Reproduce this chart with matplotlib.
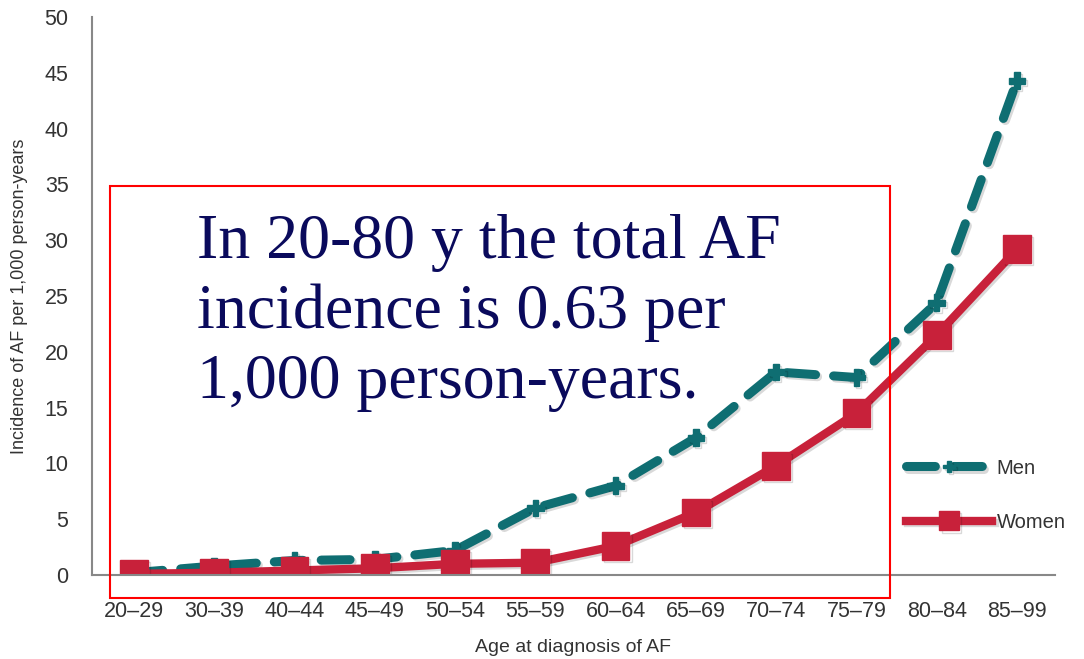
import matplotlib
matplotlib.use("Agg")
import matplotlib.pyplot as plt
import matplotlib.patheffects as pe
from matplotlib.patches import Rectangle

# data
age_groups = ["20–29", "30–39", "40–44", "45–49", "50–54", "55–59",
              "60–64", "65–69", "70–74", "75–79", "80–84", "85–99"]
men = [0.2, 0.8, 1.3, 1.4, 2.2, 6.0, 8.0, 12.3, 18.2, 17.7, 24.4, 44.3]
women = [0.1, 0.2, 0.4, 0.6, 1.0, 1.1, 2.6, 5.6, 9.8, 14.5, 21.5, 29.2]
y_ticks = [0, 5, 10, 15, 20, 25, 30, 35, 40, 45, 50]

teal = "#0f6e72"
crimson = "#c8213a"
grey = "#888888"
shadow = [pe.SimpleLineShadow(offset=(1.5, -1.5), alpha=0.15), pe.Normal()]

fig = plt.figure(figsize=(10.84, 6.59), dpi=100)
ax = fig.add_axes([0.085, 0.1275, 0.888, 0.8465])

x = list(range(len(age_groups)))
ax.plot(x, men, color=teal, lw=6.5, ls=(0, (3.2, 2.0)), marker="P",
        ms=12, mec=teal, mfc=teal, dash_capstyle="round",
        label="Men", path_effects=shadow)
ax.plot(x, women, color=crimson, lw=6, marker="s", ms=20,
        mec=crimson, mfc=crimson, label="Women", path_effects=shadow)

ax.set_xlim(-0.52, 11.47)
ax.set_ylim(0, 50)
ax.set_xticks(x)
ax.set_xticklabels(age_groups)
ax.set_yticks(y_ticks)
ax.tick_params(length=0, labelsize=15.5, colors="#333333")
ax.tick_params(axis="x", pad=19)
ax.tick_params(axis="y", pad=17)
for s in ["top", "right"]:
    ax.spines[s].set_visible(False)
for s in ["left", "bottom"]:
    ax.spines[s].set_color(grey)
    ax.spines[s].set_linewidth(1.5)

ax.set_xlabel("Age at diagnosis of AF", fontsize=14, color="#333333", labelpad=12)
ax.set_ylabel("Incidence of AF per 1,000 person-years", fontsize=13,
              color="#333333", labelpad=12)

leg = ax.legend(loc="lower right", bbox_to_anchor=(1.03, 0.045), frameon=False,
                fontsize=14.5, handlelength=4.3, labelspacing=1.75,
                handletextpad=0.2, markerscale=0.7)
for t in leg.get_texts():
    t.set_color("#333333")

# red annotation box and text
fig.patches.append(Rectangle((0.1015, 0.0926), 0.7196, 0.625, fill=False,
                             edgecolor="red", lw=1.5,
                             transform=fig.transFigure, zorder=5))
fig.text(0.182, 0.525,
         "In 20-80 y the total AF\nincidence is 0.63 per\n1,000 person-years.",
         fontsize=46, family="Liberation Serif", color="#0a0a5c",
         va="center", ha="left", linespacing=1.26)

for lab in ax.get_xticklabels() + ax.get_yticklabels():
    lab.set_family("Liberation Sans")
ax.xaxis.label.set_family("Liberation Sans")
ax.yaxis.label.set_family("Liberation Sans")
for t in leg.get_texts():
    t.set_family("Liberation Sans")

fig.savefig("out.png", dpi=100)
